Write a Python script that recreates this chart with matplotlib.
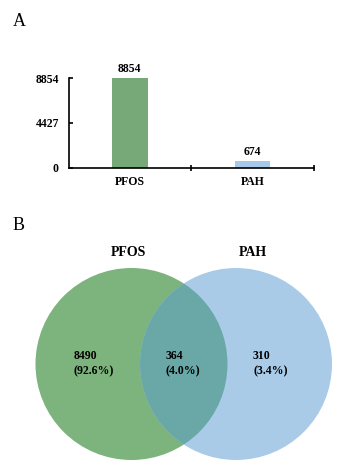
import numpy as np
import matplotlib.pyplot as plt
from matplotlib.patches import Circle

plt.rcParams['font.family'] = ['Liberation Serif', 'DejaVu Serif']

# panel A data
groups = ['PFOS', 'PAH']
counts = [8854, 674]
yticks = [0, 4427, 8854]

# panel B data (venn)
venn_labels = ['PFOS', 'PAH']
only_pfos = 8490
shared = 364
only_pah = 310
total = only_pfos + shared + only_pah

W, H = 357, 469
fig = plt.figure(figsize=(W / 100, H / 100), dpi=100)

def px(x0, y0, x1, y1):
    # pixel box (top-left origin) -> figure fraction rect
    return [x0 / W, 1 - y1 / H, (x1 - x0) / W, (y1 - y0) / H]

# ---------- A ----------
ax = fig.add_axes(px(68.5, 78, 314, 167.5))
xx = np.arange(len(groups)) + 0.5
ax.bar(xx, counts, width=0.29, color=['#77a877', '#a8c8ea'])
for x, v in zip(xx, counts):
    ax.text(x, v + 250, str(v), ha='center', va='bottom',
            fontsize=8.5, fontweight='bold')
ax.set_xlim(0, 2)
ax.set_ylim(0, 8854)
ax.set_yticks(yticks)
ax.set_yticklabels([str(t) for t in yticks], fontsize=8.5, fontweight='bold')
ax.set_xticks(xx)
ax.set_xticklabels(groups, fontsize=8.5, fontweight='bold')
ax.tick_params(axis='x', length=0, pad=6)
ax.set_xticks([1, 2], minor=True)
ax.tick_params(axis='x', which='minor', direction='inout', length=5, width=1.2)
ax.tick_params(axis='y', direction='in', length=3, width=1.2, pad=7)
ax.spines['top'].set_visible(False)
ax.spines['right'].set_visible(False)
ax.spines['left'].set_linewidth(1.2)
ax.spines['bottom'].set_linewidth(1.2)

fig.text(13 / W, 1 - 22 / H, 'A', fontsize=13, va='center', ha='left')
fig.text(13 / W, 1 - 225 / H, 'B', fontsize=13, va='center', ha='left')

# ---------- B ----------
bx = fig.add_axes([0, 0, 1, 1])
bx.set_xlim(0, W)
bx.set_ylim(H, 0)
bx.axis('off')
r = 96
c1 = (131.5, 364)
c2 = (236, 364)
bx.add_patch(Circle(c1, r, facecolor='#7db37c', edgecolor='none'))
bx.add_patch(Circle(c2, r, facecolor='#a9cbe8', edgecolor='none'))
# overlap region: green circle clipped to the blue one
ov = Circle(c1, r, facecolor='#6aa8a8', edgecolor='none')
bx.add_patch(ov)
clip = Circle(c2, r, transform=bx.transData)
ov.set_clip_path(clip)

bx.text(128, 252, venn_labels[0], ha='center', va='center',
        fontsize=10, fontweight='bold')
bx.text(253, 252, venn_labels[1], ha='center', va='center',
        fontsize=10, fontweight='bold')

def lab(x, n):
    bx.text(x, 364, '%d\n(%.1f%%)' % (n, n * 100 / total), ha='left',
            va='center', fontsize=8.5, fontweight='bold', linespacing=1.35)

lab(74, only_pfos)
lab(166, shared)
lab(253, only_pah)

plt.savefig('out.png', dpi=100)
